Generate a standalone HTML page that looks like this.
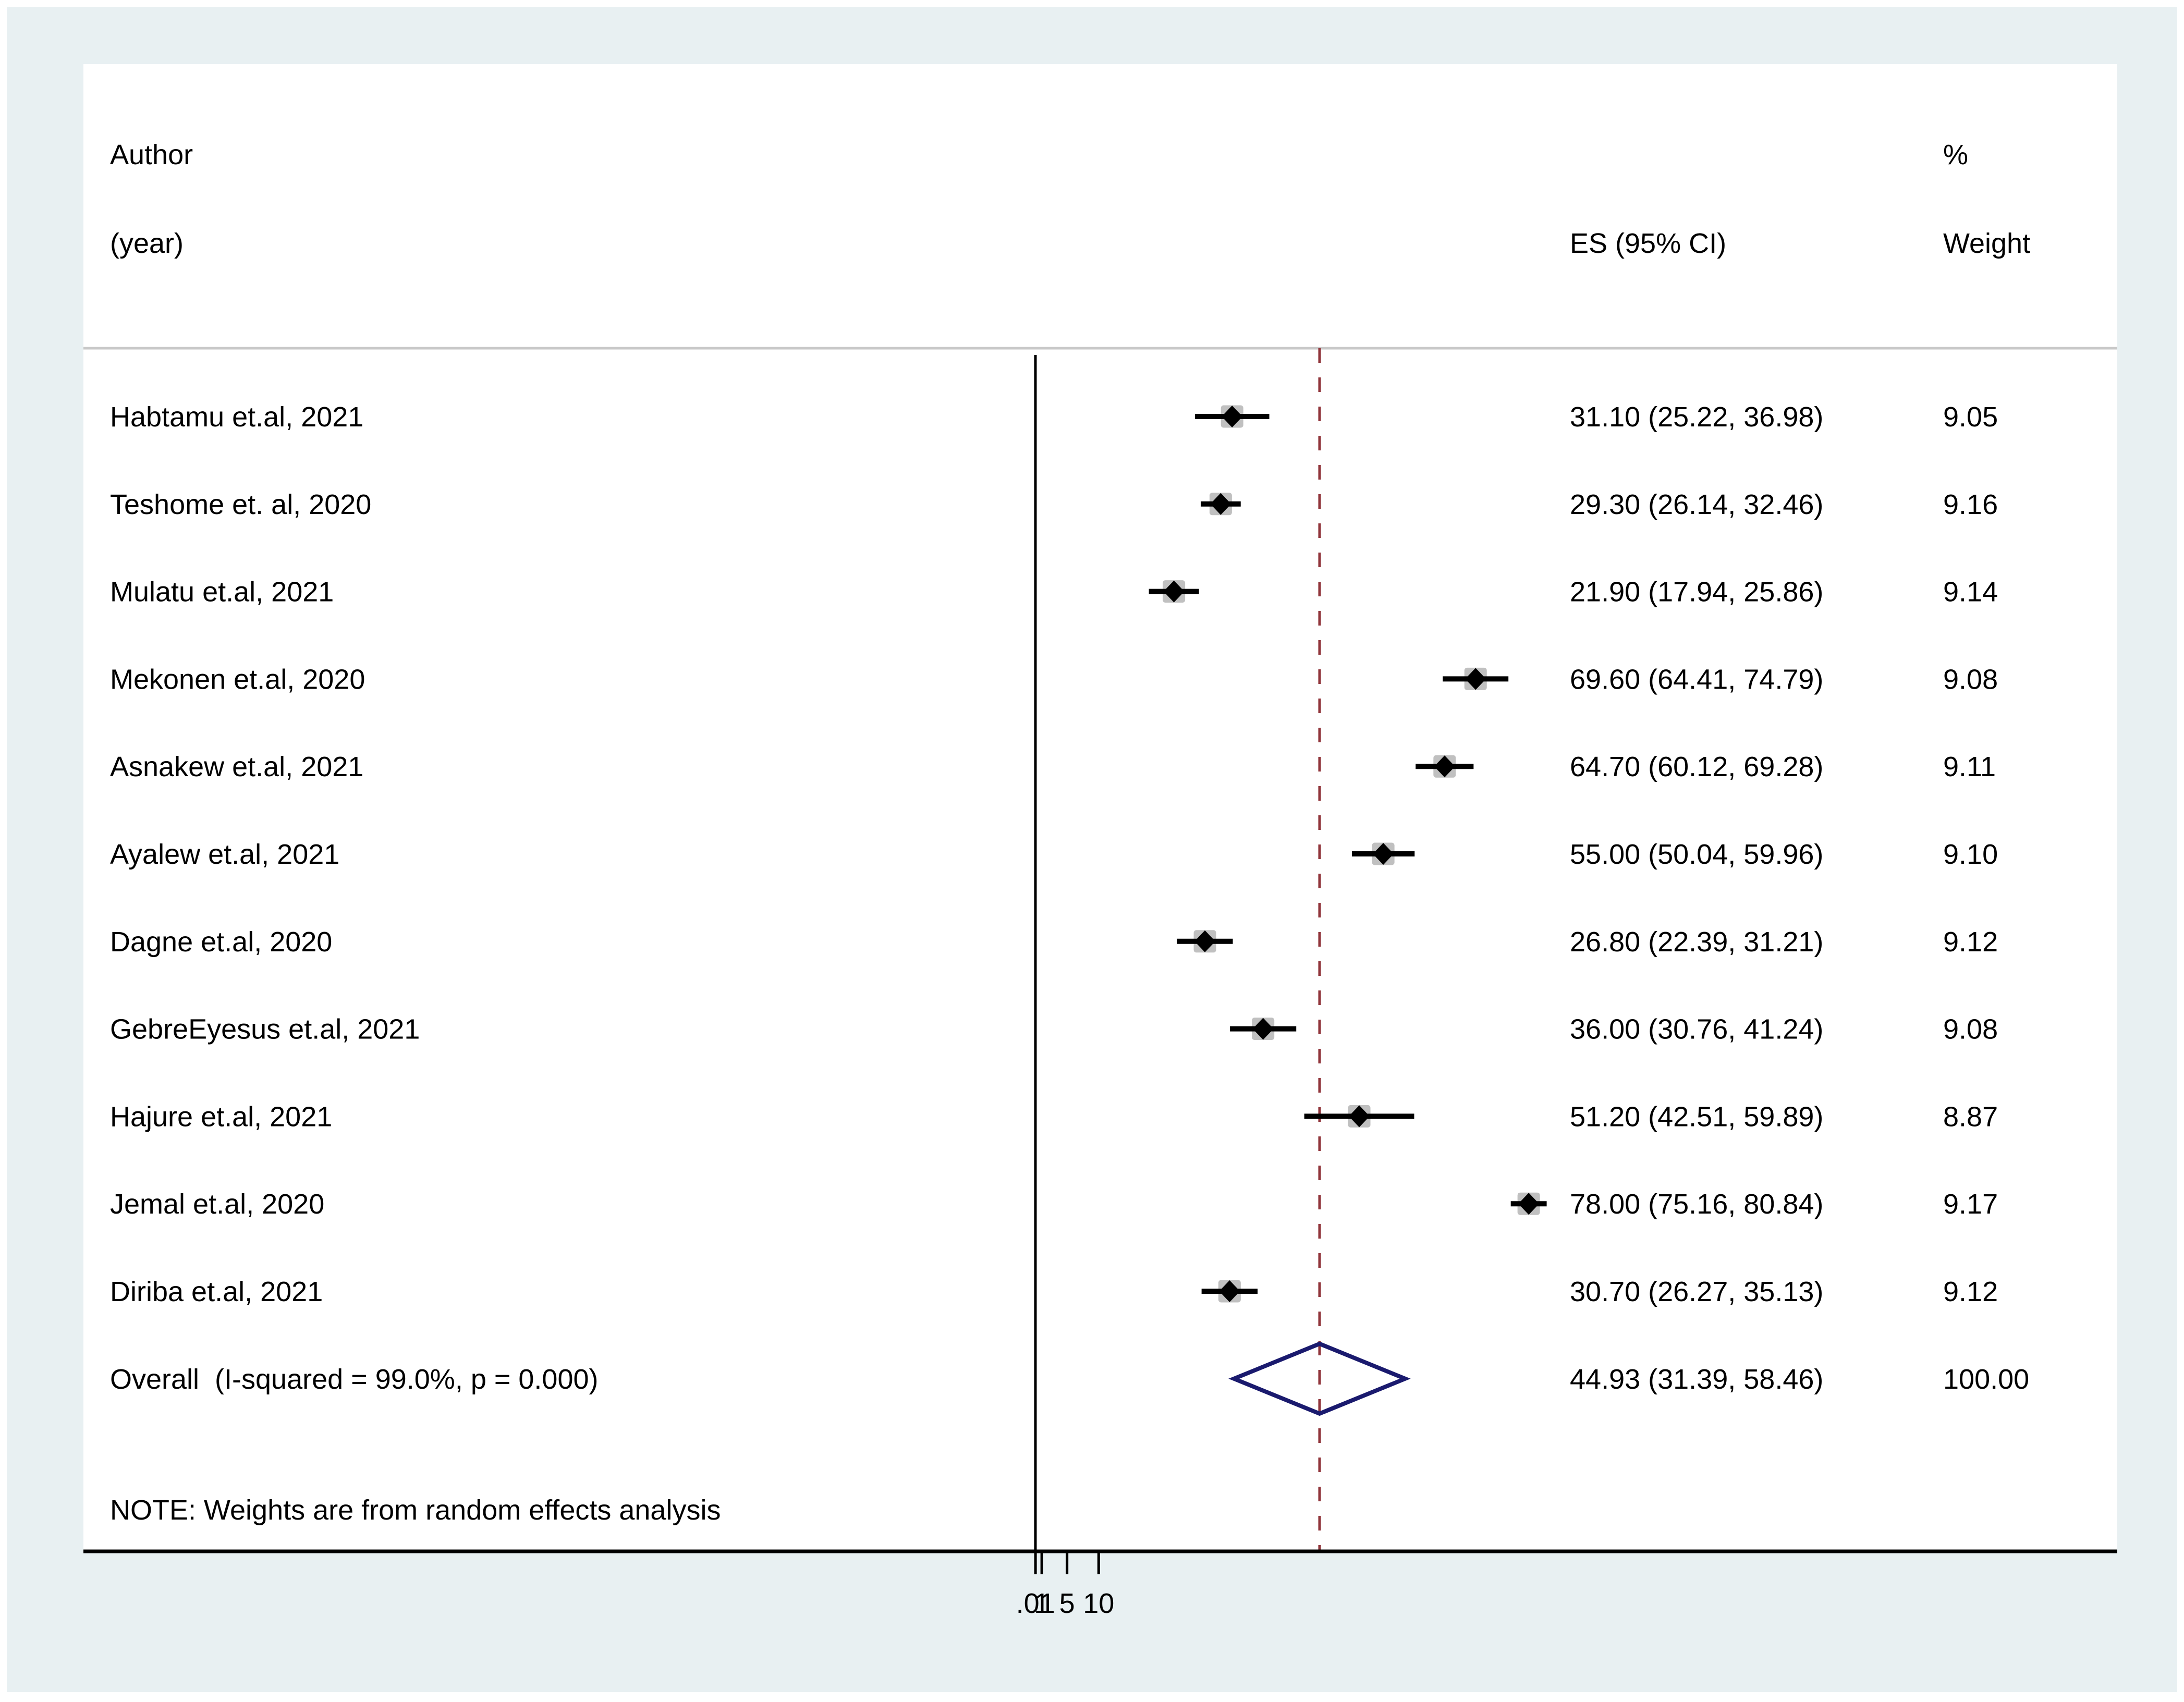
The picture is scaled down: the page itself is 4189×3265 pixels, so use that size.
<!DOCTYPE html>
<html><head><meta charset="utf-8"><style>
html,body{margin:0;padding:0;background:#fff}
svg{display:block}
text{font-family:"Liberation Sans",Arial,sans-serif;font-size:54px;fill:#000;white-space:pre}
</style></head><body>
<svg width="4189" height="3265" viewBox="0 0 4189 3265">
<rect x="13" y="13" width="4163" height="3233" fill="#e8f0f2"/>
<rect x="160" y="123" width="3901" height="2853" fill="#fff"/>
<line x1="160" y1="668" x2="4061" y2="668" stroke="#c8c8c8" stroke-width="5"/>
<text x="211" y="315">Author</text>
<text x="211" y="485">(year)</text>
<text x="3011" y="485">ES (95% CI)</text>
<text x="3727" y="315">%</text>
<text x="3727" y="485">Weight</text>
<text x="211" y="2915">NOTE: Weights are from random effects analysis</text>
<g id="chart"></g>
</svg>
<script>
const studies=["Habtamu et.al, 2021","Teshome et. al, 2020","Mulatu et.al, 2021","Mekonen et.al, 2020","Asnakew et.al, 2021","Ayalew et.al, 2021","Dagne et.al, 2020","GebreEyesus et.al, 2021","Hajure et.al, 2021","Jemal et.al, 2020","Diriba et.al, 2021"];
const es=[31.10,29.30,21.90,69.60,64.70,55.00,26.80,36.00,51.20,78.00,30.70];
const lo=[25.22,26.14,17.94,64.41,60.12,50.04,22.39,30.76,42.51,75.16,26.27];
const hi=[36.98,32.46,25.86,74.79,69.28,59.96,31.21,41.24,59.89,80.84,35.13];
const weights=["9.05","9.16","9.14","9.08","9.11","9.10","9.12","9.08","8.87","9.17","9.12"];
const overall=[44.93,31.39,58.46];
const overallLabel="Overall  (I-squared = 99.0%, p = 0.000)";
const overallWeight="100.00";
const ticks=[0.01,1,5,10];
const tickLabels=[".01","1","5","10"];

const NS="http://www.w3.org/2000/svg";
const g=document.getElementById('chart');
const X=v=>1986+v*12.13;
const Y=i=>799+i*167.8;
function mk(t,a,p){const e=document.createElementNS(NS,t);for(const k in a)e.setAttribute(k,a[k]);(p||g).appendChild(e);return e;}

let l;
l=mk('line',{x1:X(0),y1:681,x2:X(0),y2:2976,stroke:'#000','stroke-width':5});


l=mk('line',{x1:X(overall[0]),y1:668,x2:X(overall[0]),y2:2976,stroke:'#90353b','stroke-width':5,'stroke-dasharray':'28 28'});



studies.forEach((s,i)=>{
  const y=Y(i);
  let t=mk('text',{x:211,y:y+19});t.textContent=s;
  
  
  const bs=43;
  let b=mk('rect',{x:X(es[i])-bs/2,y:y-bs/2,width:bs,height:bs,rx:5,fill:'#c0c0c0'});
  
  
  let c=mk('line',{x1:X(lo[i]),y1:y,x2:X(hi[i]),y2:y,stroke:'#000','stroke-width':10});
  
  
  const cx=X(es[i]);
  let d=mk('polygon',{points:`${cx-20},${y} ${cx},${y-21} ${cx+20},${y} ${cx},${y+21}`,fill:'#000'});
  
  
  t=mk('text',{x:3011,y:y+19});t.textContent=es[i].toFixed(2)+" ("+lo[i].toFixed(2)+", "+hi[i].toFixed(2)+")";
  
  
  t=mk('text',{x:3727,y:y+19});t.textContent=weights[i];
  
  
});

const oy=Y(studies.length);
let t=mk('text',{x:211,y:oy+19});t.textContent=overallLabel;


let od=mk('polygon',{points:`${X(overall[1])},${oy} ${X(overall[0])},${oy-67} ${X(overall[2])},${oy} ${X(overall[0])},${oy+67}`,fill:'none',stroke:'#1a1a6e','stroke-width':8});


t=mk('text',{x:3011,y:oy+19});t.textContent=overall[0].toFixed(2)+" ("+overall[1].toFixed(2)+", "+overall[2].toFixed(2)+")";


t=mk('text',{x:3727,y:oy+19});t.textContent=overallWeight;



l=mk('line',{x1:160,y1:2976,x2:4061,y2:2976,stroke:'#000','stroke-width':7});


ticks.forEach((v,i)=>{
  let tk=mk('line',{x1:X(v),y1:2976,x2:X(v),y2:3020,stroke:'#000','stroke-width':5});
  
  
  let tl=mk('text',{x:X(v),y:3094,'text-anchor':'middle'});tl.textContent=tickLabels[i];
  
  
});
</script>
</body></html>
